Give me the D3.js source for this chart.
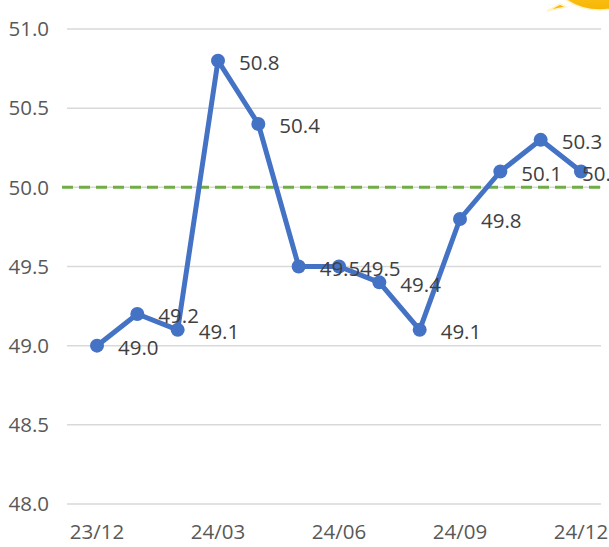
<!DOCTYPE html>
<meta charset="utf-8">
<style>
    body { margin: 0; background: #fff; }
    svg { font-family: "Open Sans", "Noto Sans", sans-serif; }
    .grid line { stroke: #d9d9d9; stroke-width: 1.5px; }
    .tick-label { fill: #595959; font-size: 20.5px; }
    .value-label { fill: #404040; font-size: 20.5px; }
</style>
<body>
<script src="https://cdn.jsdelivr.net/npm/d3@7"></script>
<script>

    var months = ["23/12", "24/01", "24/02", "24/03", "24/04", "24/05", "24/06",
                  "24/07", "24/08", "24/09", "24/10", "24/11", "24/12"];
    var pmi = [49.0, 49.2, 49.1, 50.8, 50.4, 49.5, 49.5, 49.4, 49.1, 49.8, 50.1, 50.3, 50.1];
    var shownMonths = ["23/12", "24/03", "24/06", "24/09", "24/12"];
    var yTicks = [48.0, 48.5, 49.0, 49.5, 50.0, 50.5, 51.0];
    var threshold = 50.0;

    var width = 609,
        height = 547;

    var svg = d3.select("body").append("svg")
        .attr("width", width)
        .attr("height", height);

    var x = d3.scalePoint()
        .domain(months)
        .range([97, 581]);

    var y = d3.scaleLinear()
        .domain([48, 51])
        .range([504, 29]);

    // horizontal gridlines
    svg.append("g")
        .attr("class", "grid")
        .selectAll("line")
        .data(yTicks)
        .enter().append("line")
        .attr("x1", 67)
        .attr("x2", 601)
        .attr("y1", function(d) { return y(d); })
        .attr("y2", function(d) { return y(d); });

    svg.append("g")
        .selectAll("text")
        .data(yTicks)
        .enter().append("text")
        .attr("class", "tick-label")
        .attr("x", 49)
        .attr("y", function(d) { return y(d); })
        .attr("dy", "0.35em")
        .attr("text-anchor", "end")
        .text(function(d) { return d3.format(".1f")(d); });

    svg.append("g")
        .selectAll("text")
        .data(shownMonths)
        .enter().append("text")
        .attr("class", "tick-label")
        .attr("x", function(d) { return x(d); })
        .attr("y", 539)
        .attr("text-anchor", "middle")
        .text(function(d) { return d; });

    // 50 line
    svg.append("line")
        .attr("x1", 62)
        .attr("x2", 601)
        .attr("y1", y(threshold))
        .attr("y2", y(threshold))
        .attr("stroke", "#70ad47")
        .attr("stroke-width", 3)
        .attr("stroke-dasharray", "11,6");

    var line = d3.line()
        .x(function(d, i) { return x(months[i]); })
        .y(function(d) { return y(d); });

    svg.append("path")
        .datum(pmi)
        .attr("fill", "none")
        .attr("stroke", "#4472c4")
        .attr("stroke-width", 5)
        .attr("stroke-linejoin", "round")
        .attr("d", line);

    svg.append("g")
        .selectAll("circle")
        .data(pmi)
        .enter().append("circle")
        .attr("cx", function(d, i) { return x(months[i]); })
        .attr("cy", function(d) { return y(d); })
        .attr("r", 7)
        .attr("fill", "#4472c4");

    // labels sit right of each point; the last one is pushed back over its dot
    var last = pmi.length - 1;
    svg.append("g")
        .selectAll("text")
        .data(pmi)
        .enter().append("text")
        .attr("class", "value-label")
        .attr("x", function(d, i) { return x(months[i]) + (i === last ? 1 : 21); })
        .attr("y", function(d) { return y(d) + 2; })
        .attr("dy", "0.35em")
        .text(function(d) { return d3.format(".1f")(d); });

    // yellow bubble peeking in at the corner
    var grad = svg.append("defs").append("linearGradient")
        .attr("id", "bub")
        .attr("x1", 0).attr("y1", 0).attr("x2", 0).attr("y2", 1);
    grad.append("stop").attr("offset", "0").attr("stop-color", "#ffd23a");
    grad.append("stop").attr("offset", "1").attr("stop-color", "#f7b400");

    svg.append("path")
        .attr("d", "M550,-30 C550,-5 575,10 600,10 C620,10 640,0 640,-30 Z M560,4 L547,11 L566,7 Z")
        .attr("fill", "url(#bub)")
        .attr("stroke", "#fff3c4")
        .attr("stroke-width", 1.5);

</script>
</body>
</html>
